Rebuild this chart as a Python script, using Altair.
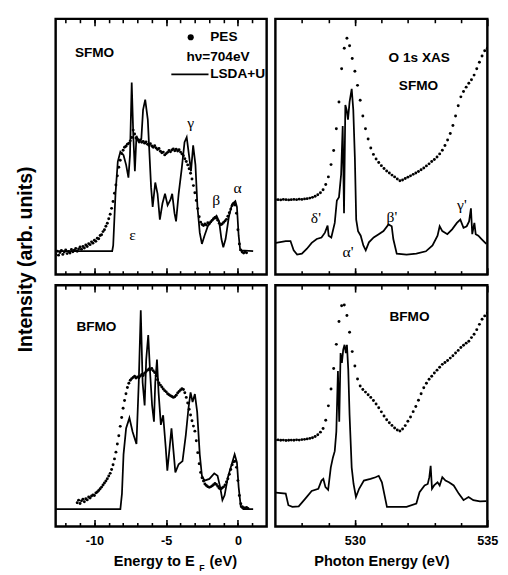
import altair as alt
import pandas as pd

FONT = "Liberation Sans"
SERIF = "Liberation Serif"

# ---------------- SFMO valence band PES (dots) ----------------
sfmo_pes_e = [-12.7, -12.6, -12.5, -12.4, -12.3, -12.2, -12.1, -12.0, -11.9, -11.8,
              -11.7, -11.6, -11.5, -11.4, -11.3, -11.2, -11.1, -11.0, -10.9, -10.8,
              -10.7, -10.6, -10.5, -10.4, -10.3, -10.2, -10.1, -10.0, -9.9, -9.8,
              -9.7, -9.6, -9.5, -9.4, -9.3, -9.2, -9.1, -9.0, -8.9, -8.8,
              -8.7, -8.6, -8.5, -8.4, -8.3, -8.2, -8.1, -8.0, -7.9, -7.8,
              -7.7, -7.6, -7.5, -7.4, -7.3, -7.2, -7.1, -7.0, -6.9, -6.8,
              -6.7, -6.6, -6.5, -6.4, -6.3, -6.2, -6.1, -6.0, -5.9, -5.8,
              -5.7, -5.6, -5.5, -5.4, -5.3, -5.2, -5.1, -5.0, -4.9, -4.8,
              -4.7, -4.6, -4.5, -4.4, -4.3, -4.2, -4.1, -4.0, -3.9, -3.8,
              -3.7, -3.6, -3.5, -3.4, -3.3, -3.2, -3.1, -3.0, -2.9, -2.8,
              -2.7, -2.6, -2.5, -2.4, -2.3, -2.2, -2.1, -2.0, -1.9, -1.8,
              -1.7, -1.6, -1.5, -1.4, -1.3, -1.2, -1.1, -1.0, -0.9, -0.8,
              -0.7, -0.6, -0.5, -0.4, -0.3, -0.2, -0.1, 0.0, 0.1, 0.2,
              0.3, 0.4, 0.5, 0.6]
sfmo_pes_i = [8.0, 9.1, 7.6, 8.6, 9.4, 7.9, 8.8, 9.6, 8.2, 9.0,
              8.4, 9.8, 8.9, 9.5, 10.2, 9.1, 10.0, 10.8, 9.9, 11.0,
              10.4, 11.6, 11.0, 12.1, 11.7, 12.8, 12.3, 13.4, 13.0, 14.2,
              14.0, 15.3, 15.6, 16.8, 17.5, 18.9, 20.1, 21.8, 23.6, 25.9,
              28.6, 31.8, 35.0, 38.6, 42.0, 44.7, 47.3, 48.6, 49.8, 50.2,
              51.0, 51.4, 52.3, 53.6, 56.5, 55.0, 53.4, 52.8, 52.0, 52.6,
              51.7, 52.1, 51.4, 51.9, 51.0, 50.6, 51.2, 50.3, 49.8, 50.4,
              49.5, 48.9, 49.3, 48.2, 47.6, 47.9, 46.8, 47.3, 47.8, 48.5,
              48.0, 48.7, 49.1, 48.4, 49.0, 48.3, 48.8, 47.9, 47.2, 46.5,
              45.3, 44.2, 42.9, 41.4, 39.6, 37.4, 34.8, 32.0, 29.0, 25.8,
              22.6, 20.5, 19.6, 19.2, 19.8, 19.4, 20.3, 19.9, 20.6, 21.2,
              21.8, 22.3, 22.0, 21.2, 20.1, 19.5, 19.8, 20.4, 21.0, 21.6,
              22.8, 24.2, 25.6, 27.0, 27.8, 27.2, 24.0, 17.5, 12.0, 9.6,
              8.8, 8.4, 8.9, 8.5]

# ---------------- SFMO LSDA+U (line) ----------------
sfmo_calc_e = [-12.7, -8.76, -8.69, -8.53, -8.37, -8.19, -7.97, -7.79, -7.63, -7.52,
               -7.40, -7.29, -7.18, -7.07, -6.88, -6.73, -6.61, -6.46, -6.28, -6.05,
               -5.94, -5.76, -5.60, -5.44, -5.26, -5.08, -4.90, -4.70, -4.58, -4.42,
               -4.31, -4.13, -3.91, -3.72, -3.57, -3.41, -3.27, -3.12, -2.96, -2.82,
               -2.66, -2.51, -2.33, -2.10, -1.76, -1.49, -1.31, -1.15, -1.02, -0.86,
               -0.63, -0.41, -0.18, -0.07, 0.05, 0.16, 1.06]
sfmo_calc_i = [9.2, 9.2, 11.4, 31.6, 44.2, 48.0, 46.7, 42.9, 37.9, 46.7,
               75.1, 54.3, 40.4, 54.3, 51.8, 53.0, 64.4, 68.4, 60.6, 34.1,
               26.5, 36.0, 31.6, 21.5, 27.8, 31.6, 27.1, 29.3, 31.6, 24.0,
               20.8, 31.6, 41.7, 51.8, 53.7, 46.7, 40.4, 50.5, 42.9, 26.5,
               16.4, 12.0, 15.2, 18.9, 21.5, 23.0, 20.8, 13.9, 10.7, 13.9,
               22.7, 27.5, 28.7, 26.5, 15.2, 9.5, 9.2]

# ---------------- BFMO valence band PES (dots) ----------------
bfmo_pes_e = [-11.2, -11.1, -11.0, -10.9, -10.8, -10.7, -10.6, -10.5, -10.4, -10.3,
              -10.2, -10.1, -10.0, -9.9, -9.8, -9.7, -9.6, -9.5, -9.4, -9.3,
              -9.2, -9.1, -9.0, -8.9, -8.8, -8.7, -8.6, -8.5, -8.4, -8.3,
              -8.2, -8.1, -8.0, -7.9, -7.8, -7.7, -7.6, -7.5, -7.4, -7.3,
              -7.2, -7.1, -7.0, -6.9, -6.8, -6.7, -6.6, -6.5, -6.4, -6.3,
              -6.2, -6.1, -6.0, -5.9, -5.8, -5.7, -5.6, -5.5, -5.4, -5.3,
              -5.2, -5.1, -5.0, -4.9, -4.8, -4.7, -4.6, -4.5, -4.4, -4.3,
              -4.2, -4.1, -4.0, -3.9, -3.8, -3.7, -3.6, -3.5, -3.4, -3.3,
              -3.2, -3.1, -3.0, -2.9, -2.8, -2.7, -2.6, -2.5, -2.4, -2.3,
              -2.2, -2.1, -2.0, -1.9, -1.8, -1.7, -1.6, -1.5, -1.4, -1.3,
              -1.2, -1.1, -1.0, -0.9, -0.8, -0.7, -0.6, -0.5, -0.4, -0.3,
              -0.2, -0.1, 0.0, 0.1, 0.2, 0.3, 0.4, 0.5, 0.6, 0.7]
bfmo_pes_i = [9.8, 10.9, 9.5, 10.6, 11.3, 10.2, 11.5, 11.0, 12.2, 11.8,
              12.6, 13.0, 12.8, 13.9, 14.3, 14.9, 15.6, 16.3, 17.2, 18.0,
              18.8, 19.8, 20.9, 22.0, 23.6, 25.6, 28.0, 30.8, 34.2, 37.6,
              41.5, 45.2, 49.0, 52.2, 55.0, 57.6, 59.4, 60.6, 61.3, 61.8,
              62.3, 61.5, 62.0, 61.6, 62.4, 63.0, 62.6, 63.5, 64.2, 64.8,
              65.3, 64.9, 65.5, 64.6, 63.8, 62.5, 60.8, 59.5, 58.6, 57.8,
              57.0, 56.3, 55.8, 55.0, 54.6, 54.2, 53.9, 53.5, 53.8, 54.4,
              55.3, 56.0, 56.6, 57.1, 56.8, 55.4, 53.5, 51.2, 48.6, 46.2,
              43.8, 41.6, 39.5, 35.5, 30.6, 26.0, 22.4, 20.2, 18.8, 17.6,
              17.0, 16.5, 16.2, 16.4, 16.8, 17.3, 17.8, 17.4, 16.6, 15.8,
              15.5, 15.9, 16.4, 17.2, 18.4, 19.8, 21.6, 23.6, 25.6, 26.8,
              27.0, 24.5, 19.0, 12.8, 9.4, 8.2, 7.8, 7.6, 7.9, 7.4]

# ---------------- BFMO LSDA+U (line) ----------------
bfmo_calc_e = [-12.7, -8.19, -8.08, -7.97, -7.79, -7.56, -7.34, -7.07, -6.91, -6.77,
               -6.64, -6.50, -6.39, -6.25, -6.12, -5.98, -5.85, -5.76, -5.64, -5.53,
               -5.37, -5.21, -5.03, -4.92, -4.76, -4.63, -4.49, -4.36, -4.13, -3.86,
               -3.63, -3.45, -3.30, -3.16, -3.00, -2.84, -2.66, -2.51, -2.33, -1.99,
               -1.65, -1.42, -1.24, -1.08, -0.93, -0.70, -0.47, -0.23, -0.07, 0.05,
               0.20, 0.38, 1.06]
bfmo_calc_i = [7.2, 7.2, 13.6, 29.9, 40.7, 45.0, 39.3, 34.2, 59.7, 89.6,
               59.7, 50.2, 69.2, 79.4, 63.8, 50.2, 43.4, 59.7, 69.2, 55.6,
               42.1, 46.1, 32.6, 23.1, 32.6, 40.7, 31.2, 22.4, 25.8, 27.1,
               38.0, 48.8, 55.6, 51.6, 54.9, 47.5, 29.9, 21.0, 19.0, 19.7,
               22.0, 21.0, 16.3, 10.9, 12.9, 20.4, 25.1, 29.9, 26.5, 16.3,
               8.1, 7.2, 7.2]

# ---------------- O 1s XAS (dots), photon energy grid ----------------
xas_e = [527.0, 527.1, 527.2, 527.3, 527.4, 527.5, 527.6, 527.7, 527.8, 527.9,
         528.0, 528.1, 528.2, 528.3, 528.4, 528.5, 528.6, 528.7, 528.8, 528.9,
         529.0, 529.1, 529.2, 529.3, 529.4, 529.5, 529.6, 529.7, 529.8, 529.9,
         530.0, 530.1, 530.2, 530.3, 530.4, 530.5, 530.6, 530.7, 530.8, 530.9,
         531.0, 531.1, 531.2, 531.3, 531.4, 531.5, 531.6, 531.7, 531.8, 531.9,
         532.0, 532.1, 532.2, 532.3, 532.4, 532.5, 532.6, 532.7, 532.8, 532.9,
         533.0, 533.1, 533.2, 533.3, 533.4, 533.5, 533.6, 533.7, 533.8, 533.9,
         534.0, 534.1, 534.2, 534.3, 534.4, 534.5, 534.6, 534.7, 534.8, 534.9,
         535.0]
sfmo_xas_i = [29.3, 29.3, 29.2, 29.4, 29.3, 29.2, 29.3, 29.4, 29.3, 29.5,
              29.4, 29.6, 29.7, 29.9, 30.2, 30.6, 31.2, 32.0, 33.2, 35.2,
              38.2, 43.0, 48.5, 57.0, 67.5, 80.5, 88.5, 92.4, 89.5, 84.5,
              79.5, 74.0, 68.2, 62.0, 57.0, 53.0, 49.5, 47.0, 45.2, 43.8,
              42.6, 41.5, 40.5, 39.7, 38.9, 38.2, 37.4, 36.7, 37.0, 37.6,
              38.1, 38.6, 39.2, 39.7, 40.3, 41.0, 41.7, 42.5, 43.3, 44.2,
              45.0, 46.0, 47.2, 48.6, 50.5, 52.6, 55.2, 58.3, 62.0, 66.0,
              69.5, 71.6, 73.3, 74.8, 76.2, 78.0, 80.5, 83.0, 85.5, 87.5,
              88.5]
bfmo_xas_i = [35.8, 35.9, 35.7, 35.8, 35.6, 35.7, 35.8, 35.7, 35.9, 35.8,
              36.0, 36.1, 36.3, 36.5, 36.8, 37.3, 38.0, 39.1, 40.6, 44.0,
              50.0, 57.0, 65.5, 75.5, 85.0, 91.5, 91.8, 87.5, 80.5, 72.5,
              66.5, 61.1, 58.2, 56.8, 55.7, 54.6, 53.5, 52.2, 50.8, 49.2,
              47.5, 45.8, 44.2, 43.0, 41.9, 40.8, 40.0, 39.6, 40.4, 41.8,
              43.6, 45.4, 47.6, 49.7, 52.3, 55.0, 57.5, 59.4, 61.0, 62.3,
              63.6, 64.8, 66.0, 67.2, 68.0, 68.8, 69.8, 70.8, 71.9, 73.0,
              74.2, 75.1, 76.0, 76.8, 78.3, 79.7, 81.6, 83.8, 85.9, 87.3,
              88.5]

# ---------------- XAS calculations (lines) ----------------
sfmo_xcalc_e = [527.02, 527.39, 527.57, 527.69, 527.82, 528.0, 528.19, 528.37, 528.56, 528.74,
                528.87, 528.97, 529.01, 529.11, 529.24, 529.32, 529.40, 529.48, 529.54, 529.59,
                529.64, 529.69, 529.74, 529.80, 529.88, 529.94, 530.0, 530.05, 530.12, 530.22,
                530.32, 530.41, 530.53, 530.71, 530.90, 531.08, 531.27, 531.39, 531.45, 531.58,
                531.95, 532.32, 532.68, 532.93, 533.12, 533.20, 533.30, 533.49, 533.67, 533.85,
                533.98, 534.10, 534.22, 534.31, 534.38, 534.43, 534.51, 534.56, 534.66, 534.78,
                534.96]
sfmo_xcalc_i = [12.4, 13.1, 13.1, 9.5, 7.8, 8.2, 10.1, 12.4, 13.9, 14.5,
                16.4, 19.2, 15.2, 14.5, 20.2, 29.0, 30.3, 39.1, 58.1, 24.0,
                66.3, 64.4, 60.6, 67.5, 72.6, 64.4, 45.5, 21.5, 17.0, 15.2,
                11.4, 9.5, 12.6, 14.5, 15.8, 17.0, 19.6, 18.9, 13.9, 8.2,
                7.8, 8.2, 9.1, 11.4, 15.2, 18.9, 17.0, 15.8, 17.7, 20.2,
                21.5, 18.3, 18.9, 20.8, 25.9, 15.8, 20.2, 15.8, 15.2, 13.9,
                12.0]
bfmo_xcalc_e = [527.02, 527.39, 527.49, 527.64, 527.88, 528.13, 528.37, 528.62, 528.74, 528.81,
                528.89, 528.99, 529.09, 529.17, 529.24, 529.30, 529.36, 529.41, 529.46, 529.51,
                529.56, 529.61, 529.66, 529.70, 529.75, 529.80, 529.88, 529.95, 530.04, 530.16,
                530.34, 530.59, 530.78, 530.90, 531.02, 531.21, 531.45, 531.95, 532.32, 532.44,
                532.63, 532.75, 532.81, 532.86, 532.91, 532.99, 533.12, 533.20, 533.30, 533.42,
                533.55, 533.73, 533.92, 534.10, 534.29, 534.47, 534.72, 534.96]
bfmo_xcalc_i = [14.0, 13.6, 8.8, 8.1, 8.3, 11.5, 14.7, 15.6, 19.0, 19.7,
                16.3, 15.2, 24.4, 28.5, 31.2, 39.3, 64.4, 43.4, 71.9, 67.8,
                73.3, 75.3, 71.9, 75.3, 65.1, 46.1, 24.4, 17.6, 12.2, 15.6,
                19.0, 19.7, 20.4, 21.0, 18.3, 8.1, 8.1, 8.1, 9.5, 14.2,
                17.0, 17.6, 20.4, 25.1, 15.6, 17.0, 18.3, 17.0, 20.4, 19.0,
                18.3, 17.0, 13.6, 10.9, 12.2, 10.9, 10.4, 10.5]

# ---------------- annotations ----------------
tl_text, tl_text_e, tl_text_i = ["SFMO", "hν=704eV"], [-9.99, -1.39], [86.7, 85.2]
tl_leg, tl_leg_e, tl_leg_i = ["PES", "LSDA+U"], [-1.93, -1.93], [92.8, 78.3]
tl_dot_e, tl_dot_i = [-3.29], [92.8]
tl_legline_e, tl_legline_e2, tl_legline_i = [-4.64], [-2.05], [78.3]
tl_greek, tl_greek_e, tl_greek_i = ["γ", "β", "α", "ε"], [-3.29, -1.52, -0.03, -7.35], [59.3, 29.3, 33.8, 15.6]
tr_text, tr_text_e, tr_text_i = ["O 1s XAS", "SFMO"], [532.43, 532.4], [84.8, 73.8]
tr_greek, tr_greek_e, tr_greek_i = ["δ'", "α'", "β'", "γ'"], [528.53, 529.74, 531.4, 534.04], [22.0, 8.7, 22.4, 27.0]
bl_text, bl_text_e, bl_text_i = ["BFMO"], [-9.86], [82.7]
br_text, br_text_e, br_text_i = ["BFMO"], [532.06], [86.7]
# x-axis title of the valence-band panels: "Energy to E" + subscript "F" + "(eV)"
xt_main, xt_main_e, xt_main_i = ["Energy to E"], [-3.01], [-14.6]
xt_sub, xt_sub_e, xt_sub_i = ["F"], [-2.51], [-17.2]
xt_unit, xt_unit_e, xt_unit_i = ["(eV)"], [-1.98], [-14.6]

vb_dom, xas_dom = [-12.7, 2.0], [527.0, 535.0]
vb_minor = [-12, -11, -10, -9, -8, -7, -6, -5, -4, -3, -2, -1, 0, 1]
vb_major = [-10, -5, 0]
xas_minor = [528, 529, 530, 531, 532, 533, 534]
xas_major = [530, 535]

W_L, W_R, H_T, H_B = 217, 218, 263, 248


def sc(dom):
    return alt.Scale(domain=dom, nice=False, zero=False)


YS = alt.Scale(domain=[0, 100], nice=False, zero=False)


def tick_layer(dom, vals, orient, size, H):
    return alt.Chart(pd.DataFrame({"t": vals, "v": [50] * len(vals)})).mark_point(opacity=0).encode(
        x=alt.X("t:Q", scale=sc(dom),
                axis=alt.Axis(orient=orient, offset=-H, values=vals, tickSize=size,
                              tickWidth=1.6, tickColor="black", domain=False, grid=False,
                              labels=False, title=None)),
        y=alt.Y("v:Q", scale=YS, axis=None))


def label_layer(dom, vals, title=None):
    ax = dict(orient="bottom", values=vals, ticks=False, domain=False, grid=False,
              labelExpr="datum.value", labelFont=FONT, labelFontWeight="bold",
              labelFontSize=13, labelColor="black", labelPadding=9, labelFlush=False,
              labelOverlap=False, title=title, titleFont=FONT, titleFontSize=15,
              titleFontWeight="bold", titleColor="black", titlePadding=6)
    return alt.Chart(pd.DataFrame({"t": vals, "v": [50] * len(vals)})).mark_point(opacity=0).encode(
        x=alt.X("t:Q", scale=sc(dom), axis=alt.Axis(**ax)),
        y=alt.Y("v:Q", scale=YS, axis=None))


def dots(dom, e, i, size=9):
    return alt.Chart(pd.DataFrame({"e": e, "i": i})).mark_circle(
        size=size, color="black", opacity=1, clip=True).encode(
        x=alt.X("e:Q", scale=sc(dom), axis=None), y=alt.Y("i:Q", scale=YS, axis=None))


def line(dom, e, i):
    return alt.Chart(pd.DataFrame({"e": e, "i": i})).mark_line(
        color="black", strokeWidth=1.8, clip=True).encode(
        x=alt.X("e:Q", scale=sc(dom), axis=None), y=alt.Y("i:Q", scale=YS, axis=None))


def texts(dom, t, e, i, font=FONT, weight="bold", size=14, align="center"):
    return alt.Chart(pd.DataFrame({"t": t, "e": e, "i": i})).mark_text(
        font=font, fontWeight=weight, fontSize=size, align=align, baseline="middle",
        color="black").encode(
        x=alt.X("e:Q", scale=sc(dom), axis=None), y=alt.Y("i:Q", scale=YS, axis=None),
        text="t:N")


def frame_ticks(dom, minor, major, H):
    return [tick_layer(dom, minor, "top", 4, H), tick_layer(dom, minor, "bottom", 4, H),
            tick_layer(dom, major, "top", 7, H), tick_layer(dom, major, "bottom", 7, H)]


def combine(layers, W, H):
    return alt.layer(*layers).resolve_axis(x="independent").properties(width=W, height=H)


legline = alt.Chart(pd.DataFrame({"e": tl_legline_e, "e2": tl_legline_e2, "i": tl_legline_i})).mark_rule(
    color="black", strokeWidth=1.8).encode(
    x=alt.X("e:Q", scale=sc(vb_dom), axis=None), x2="e2:Q", y=alt.Y("i:Q", scale=YS, axis=None))

tl = combine([
    dots(vb_dom, sfmo_pes_e, sfmo_pes_i),
    line(vb_dom, sfmo_calc_e, sfmo_calc_i),
    texts(vb_dom, tl_text, tl_text_e, tl_text_i),
    texts(vb_dom, tl_leg, tl_leg_e, tl_leg_i, align="left"),
    dots(vb_dom, tl_dot_e, tl_dot_i, size=40),
    legline,
    texts(vb_dom, tl_greek, tl_greek_e, tl_greek_i, font=SERIF, weight="normal", size=16),
] + frame_ticks(vb_dom, vb_minor, vb_major, H_T), W_L, H_T)

tr = combine([
    dots(xas_dom, xas_e, sfmo_xas_i),
    line(xas_dom, sfmo_xcalc_e, sfmo_xcalc_i),
    texts(xas_dom, tr_text, tr_text_e, tr_text_i),
    texts(xas_dom, tr_greek, tr_greek_e, tr_greek_i, font=SERIF, weight="normal", size=16),
] + frame_ticks(xas_dom, xas_minor, xas_major, H_T), W_R, H_T)

bl = combine([
    dots(vb_dom, bfmo_pes_e, bfmo_pes_i),
    line(vb_dom, bfmo_calc_e, bfmo_calc_i),
    texts(vb_dom, bl_text, bl_text_e, bl_text_i),
    texts(vb_dom, xt_main, xt_main_e, xt_main_i, size=15, align="right"),
    texts(vb_dom, xt_sub, xt_sub_e, xt_sub_i, size=9),
    texts(vb_dom, xt_unit, xt_unit_e, xt_unit_i, size=15, align="left"),
    label_layer(vb_dom, vb_major),
] + frame_ticks(vb_dom, vb_minor, vb_major, H_B), W_L, H_B)

br = combine([
    dots(xas_dom, xas_e, bfmo_xas_i),
    line(xas_dom, bfmo_xcalc_e, bfmo_xcalc_i),
    texts(xas_dom, br_text, br_text_e, br_text_i),
    label_layer(xas_dom, xas_major, "Photon Energy (eV)"),
] + frame_ticks(xas_dom, xas_minor, xas_major, H_B), W_R, H_B)

chart = alt.vconcat(
    alt.hconcat(tl, tr, spacing=5),
    alt.hconcat(bl, br, spacing=5),
    spacing=5,
).properties(
    title=alt.TitleParams("Intensity (arb. units)", orient="left", anchor="middle",
                          font=FONT, fontSize=20, fontWeight="bold", color="black",
                          offset=19, dx=37),
    padding={"left": 8, "top": 0, "right": 0, "bottom": 0},
).configure(background="white").configure_view(stroke="black", strokeWidth=2.5)

chart.save("out.html", embed_options={"renderer": "svg", "actions": False})
